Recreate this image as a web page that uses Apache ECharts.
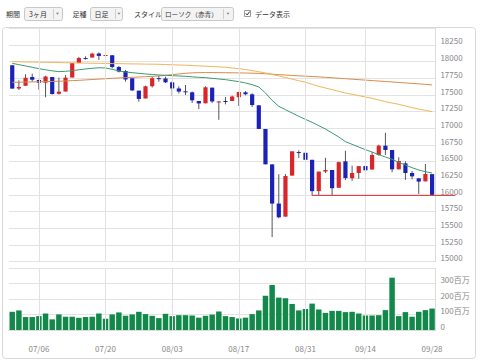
<!DOCTYPE html>
<html><head><meta charset="utf-8">
<script src="https://cdn.jsdelivr.net/npm/echarts@6/dist/echarts.min.js"></script>
<style>html,body{margin:0;padding:0;background:#fff}#c{width:480px;height:364px}</style>
</head><body><div id="c"></div>
<script>
const dates = ['06/29','06/30','07/01','07/02','07/06','07/07','07/08','07/09','07/10','07/13','07/14','07/15','07/16','07/17','07/20','07/21','07/22','07/23','07/24','07/27','07/28','07/29','07/30','07/31','08/03','08/04','08/05','08/06','08/07','08/10','08/11','08/12','08/13','08/14','08/17','08/18','08/19','08/20','08/21','08/24','08/25','08/26','08/27','08/28','08/31','09/01','09/02','09/03','09/04','09/08','09/09','09/10','09/11','09/14','09/15','09/16','09/17','09/18','09/21','09/22','09/23','09/24','09/25','09/28'];
// [open, close, low, high]
const ohlc = [
[17946,17596,17593,17946],[17597,17620,17575,17720],[17638,17758,17638,17811],[17770,17730,17700,17820],
[17725,17684,17580,17730],[17684,17777,17465,17787],[17770,17515,17506,17770],[17518,17549,17505,17760],
[17552,17760,17552,17800],[17762,17978,17762,17978],[17979,18054,17979,18070],[18054,18050,18030,18080],
[18062,18120,18062,18132],[18122,18086,18025,18138],[18087,18100,18063,18137],[18096,17919,17900,18096],
[17919,17851,17838,17935],[17860,17732,17700,17876],[17750,17569,17558,17750],[17565,17441,17400,17565],
[17448,17630,17448,17640],[17632,17751,17613,17778],[17752,17746,17700,17790],[17747,17690,17680,17775],
[17690,17598,17487,17705],[17598,17551,17522,17630],[17555,17540,17500,17650],[17540,17420,17380,17552],
[17410,17373,17290,17410],[17375,17615,17375,17630],[17610,17403,17380,17610],[17400,17403,17128,17410],
[17410,17408,17360,17470],[17410,17477,17410,17490],[17467,17545,17335,17550],[17540,17511,17495,17560],
[17510,17349,17320,17525],[17345,16991,16990,17345],[16990,16460,16460,16990],[16459,15871,15370,16459],
[15872,15666,15651,16312],[15676,16285,15676,16313],[16291,16655,16291,16655],[16644,16643,16555,16670],
[16634,16528,16528,16634],[16528,16058,15990,16528],[16059,16351,16001,16351],[16352,16375,16329,16559],
[16375,16102,16000,16375],[16109,16493,16109,16500],[16505,16254,16224,16664],[16252,16330,16212,16441],
[16330,16433,16244,16434],[16434,16371,16318,16450],[16382,16600,16382,16644],[16600,16740,16590,16755],
[16740,16675,16600,16933],[16675,16385,16342,16675],[16385,16510,16385,16565],[16475,16330,16226,16506],
[16330,16280,16235,16360],[16250,16201,16016,16253],[16205,16315,16205,16465],[16313,16002,15988,16313]
];
// volume in 百万
const volume = [118,127,84,84,90,107,69,101,86,86,79,84,86,107,73,101,114,92,101,118,103,92,77,105,90,96,96,94,80,92,100,120,90,84,75,80,103,127,222,292,210,206,169,127,136,171,133,111,124,124,116,118,107,94,94,96,129,339,90,116,86,118,129,139];
const maShort = [17975,17955,17935,17915,17895,17878,17862,17850,17855,17865,17878,17890,17900,17908,17905,17885,17860,17845,17835,17825,17815,17808,17800,17795,17790,17785,17780,17772,17765,17760,17750,17740,17730,17715,17700,17680,17655,17620,17530,17420,17330,17280,17230,17180,17135,17090,17040,16990,16930,16870,16800,16760,16720,16680,16645,16605,16570,16535,16490,16450,16410,16375,16350,16330];
const maMid = [18000,17998,17996,17994,17992,17990,17988,17986,17984,17982,17980,17978,17976,17975,17973,17971,17970,17968,17966,17965,17963,17962,17960,17957,17953,17950,17946,17942,17937,17932,17927,17922,17915,17905,17895,17882,17866,17849,17830,17808,17786,17762,17738,17714,17690,17660,17630,17605,17580,17555,17530,17510,17490,17470,17450,17425,17400,17380,17360,17335,17310,17290,17270,17250];
const maLong = [17690,17692,17694,17696,17698,17700,17703,17706,17710,17715,17720,17726,17732,17738,17744,17750,17755,17760,17765,17770,17775,17780,17785,17795,17805,17815,17825,17832,17835,17836,17836,17835,17834,17833,17831,17829,17827,17824,17818,17812,17805,17799,17793,17787,17782,17777,17772,17765,17758,17751,17744,17737,17730,17723,17716,17709,17702,17695,17688,17681,17674,17667,17659,17650];
const labelDates = ['07/06','07/20','08/03','08/17','08/31','09/14','09/28'];
const gridDates = ['07/06','07/20','08/03','08/17','08/31','09/14'];
const supportLevel = 15995;
const supportStart = '09/01';

const FONT = "'Noto Sans CJK JP', 'Noto Sans', sans-serif";
const UP = '#d8262b', DOWN = '#1c22b8', WICK = '#555';

const chart = echarts.init(document.getElementById('c'), null, {renderer:'svg', width:480, height:364});

function renderCandle(params, api){
  const i = api.value(0);
  const o = api.value(1), c = api.value(2), l = api.value(3), h = api.value(4);
  const pO = api.coord([i,o]), pC = api.coord([i,c]), pL = api.coord([i,l]), pH = api.coord([i,h]);
  const w = api.size([1,0])[0]*0.63;
  const x = pO[0];
  const top = Math.min(pO[1],pC[1]), bot = Math.max(pO[1],pC[1]);
  const up = c >= o;
  return {type:'group', children:[
    {type:'line', shape:{x1:x, y1:pH[1], x2:x, y2:pL[1]}, style:{stroke:WICK, lineWidth:1}},
    {type:'rect', shape:{x:x-w/2, y:top, width:w, height:Math.max(bot-top,1)}, style:{fill: up?UP:DOWN}}
  ]};
}

const vGrid = (gi) => ({
  type:'line', xAxisIndex:gi, yAxisIndex:gi, data:dates.map(()=>null), z:1, silent:true,
  markLine:{silent:true, symbol:['none','none'], label:{show:false}, animation:false,
    lineStyle:{color:'#e1e1e1', type:'solid', width:1},
    data: gridDates.map(d=>({xAxis:d}))}
});

const axisText = {color:'#888', fontSize:8, fontFamily:FONT};

chart.setOption({
  animation:false,
  textStyle:{fontFamily:FONT},
  grid:[
    {left:8.9, right:44.6, top:28.3, height:233.4},
    {left:8.9, right:44.6, top:268.3, height:61.7}
  ],
  xAxis:[
    {type:'category', gridIndex:0, data:dates, boundaryGap:true, axisLine:{show:false}, axisTick:{show:false}, axisLabel:{show:false}, splitLine:{show:false}},
    {type:'category', gridIndex:1, data:dates, boundaryGap:true, offset:11.7,
      axisLine:{show:true, lineStyle:{color:'#dcdcdc'}}, axisTick:{show:false},
      axisLabel:Object.assign({interval:(i,v)=>labelDates.includes(v), margin:3}, axisText), splitLine:{show:false}}
  ],
  yAxis:[
    {type:'value', gridIndex:0, position:'right', min:15000, max:18500, interval:250,
      axisLine:{show:true, lineStyle:{color:'#dcdcdc'}}, axisTick:{show:false},
      axisLabel:Object.assign({showMaxLabel:false, margin:5, verticalAlign:'bottom', formatter:v=>String(v)}, axisText),
      splitLine:{lineStyle:{color:'#e3e3e3'}}},
    {type:'value', gridIndex:1, position:'right', min:0, max:400, interval:100,
      axisLine:{show:true, lineStyle:{color:'#dcdcdc'}}, axisTick:{show:false},
      axisLabel:Object.assign({showMaxLabel:false, margin:5, verticalAlign:'bottom', formatter:v=> v===0?'0':v+'百万'}, axisText),
      splitLine:{lineStyle:{color:'#e3e3e3'}}}
  ],
  series:[
    vGrid(0), vGrid(1),
    {type:'custom', name:'price', xAxisIndex:0, yAxisIndex:0, z:3, renderItem:renderCandle,
      encode:{x:0, y:[1,2,3,4]}, data: ohlc.map((d,i)=>[i].concat(d))},
    {type:'line', name:'MA long', xAxisIndex:0, yAxisIndex:0, z:4, data:maLong, symbol:'none', lineStyle:{color:'#d98a4c', width:1}},
    {type:'line', name:'MA mid', xAxisIndex:0, yAxisIndex:0, z:4, data:maMid, symbol:'none', lineStyle:{color:'#efb55a', width:1}},
    {type:'line', name:'MA short', xAxisIndex:0, yAxisIndex:0, z:4, data:maShort, symbol:'none', lineStyle:{color:'#3c9a70', width:1}},
    {type:'bar', name:'volume', xAxisIndex:1, yAxisIndex:1, z:3, data:volume, barWidth:'82%', itemStyle:{color:'#12894a'}}
  ]
});

const p1 = chart.convertToPixel({xAxisIndex:0, yAxisIndex:0}, [supportStart, supportLevel]);
const gridRight = 480 - 44.6;

const T = (text, x, extra) => Object.assign({type:'text', x:x, y:14, silent:true,
  style:{text:text, fill:'#333', fontSize:7, fontFamily:FONT, verticalAlign:'middle', align:'left'}}, extra||{});
const box = (x, w) => ({type:'rect', silent:true, shape:{x:x, y:7.5, width:w, height:13, r:2}, style:{fill:'#f3f3f3', stroke:'#c8c8c8', lineWidth:1}});
const sep = (x) => ({type:'line', silent:true, shape:{x1:x, y1:9, x2:x, y2:19}, style:{stroke:'#cfcfcf', lineWidth:1}});
const arrow = (cx) => ({type:'polygon', silent:true, shape:{points:[[cx-1.6,12.8],[cx+1.6,12.8],[cx,14.8]]}, style:{fill:'#888'}});

chart.setOption({
  graphic:{elements:[
    {type:'rect', silent:true, z:-10, shape:{x:2.5, y:27.5, width:473, height:331, r:3}, style:{fill:'none', stroke:'#d8d8d8', lineWidth:1}},
    T('期間', 6),
    box(24.5, 38), T('3ヶ月', 29), sep(53.5), arrow(57.5),
    T('足種', 72.5),
    box(90.5, 32), T('日足', 94.5), sep(115.5), arrow(119),
    T('スタイル', 134),
    box(161.5, 72), T('ローソク（赤青）', 165, {style:{text:'ローソク（赤青）', fill:'#333', fontSize:6.6, fontFamily:FONT, verticalAlign:'middle', align:'left'}}), sep(223.5), arrow(228),
    {type:'rect', silent:true, shape:{x:244.5, y:10.5, width:6, height:6}, style:{fill:'#fff', stroke:'#999', lineWidth:1}},
    {type:'polyline', silent:true, shape:{points:[[245.8,13.4],[247.2,15],[249.6,11.6]]}, style:{stroke:'#333', lineWidth:1, fill:'none'}},
    T('データ表示', 255),
    {type:'line', silent:true, z:100, shape:{x1:p1[0], y1:p1[1], x2:gridRight+20, y2:p1[1]}, style:{stroke:'#d8262b', lineWidth:1}}
  ]}
});
</script>
</body></html>
